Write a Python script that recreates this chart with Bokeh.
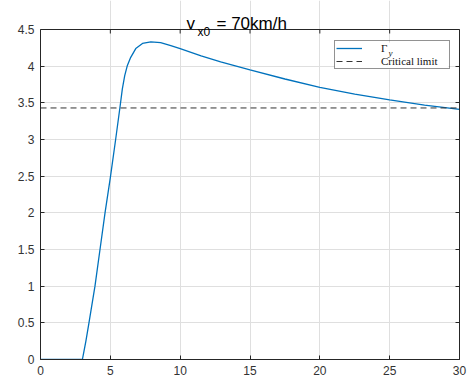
from bokeh.plotting import figure
from bokeh.models import (Range1d, LinearAxis, Legend, LegendItem, Label,
                          FixedTicker, BoxAnnotation)
from bokeh.embed import file_html
from bokeh.resources import INLINE

# ---- data ----
time_s = [0, 3.0, 3.1, 3.25, 3.47, 3.9, 4.26, 4.62, 5.0, 5.38, 5.69, 5.86, 6.03,
          6.22, 6.46, 6.82, 7.3, 7.9, 8.6, 9.33, 10, 11.5, 12.9, 15, 17.5, 20,
          22.5, 25, 27.5, 30]
gamma_y = [0, 0, 0.1, 0.25, 0.5, 1.0, 1.5, 2.0, 2.48, 3.0, 3.44, 3.69, 3.87,
           4.01, 4.12, 4.24, 4.31, 4.33, 4.32, 4.28, 4.24, 4.14, 4.06, 3.95,
           3.825, 3.71, 3.62, 3.54, 3.47, 3.41]
critical_limit = 3.43
x_ticks = [0, 5, 10, 15, 20, 25, 30]
y_ticks = [0, 0.5, 1, 1.5, 2, 2.5, 3, 3.5, 4, 4.5]
series_labels = ["Γ", "Critical limit"]
title_parts = ["v", "x0", "= 70km/h"]

# ---- layout constants (pixels) ----
W, H = 469, 383
LEFT, RIGHT = 40, 10
FRAME_H = 359          # frame spans from top of canvas to the x axis
FRAME_W = W - LEFT - RIGHT
BOX_TOP = 29           # pixel row of the visible box top
TICK = 4
AX = "#262626"

y_max = y_ticks[-1] * FRAME_H / (FRAME_H - BOX_TOP)
tick_len = TICK * y_max / FRAME_H


def px_x(px):
    return x_ticks[0] + (px - LEFT) * (x_ticks[-1] - x_ticks[0]) / FRAME_W


def px_y(py):
    return (FRAME_H - py) * y_max / FRAME_H


p = figure(width=W, height=H, output_backend="svg", toolbar_location=None,
           x_range=Range1d(x_ticks[0], x_ticks[-1]),
           y_range=Range1d(y_ticks[0], y_max),
           min_border_left=LEFT, min_border_right=RIGHT, min_border_top=0,
           min_border_bottom=H - FRAME_H)
p.background_fill_color = "white"
p.border_fill_color = "white"
p.outline_line_color = None

p.add_layout(LinearAxis(), "right")

for ax in p.xaxis:
    ax.ticker = FixedTicker(ticks=x_ticks)
for ax in p.yaxis:
    ax.ticker = FixedTicker(ticks=y_ticks)
    ax.bounds = (y_ticks[0], y_ticks[-1])
for ax in p.axis:
    ax.axis_line_color = AX
    ax.axis_line_width = 1
    ax.major_tick_line_color = AX
    ax.major_tick_in = TICK
    ax.major_tick_out = 0
    ax.minor_tick_line_color = None
    ax.major_label_text_font = "Liberation Sans"
    ax.major_label_text_font_size = "12px"
    ax.major_label_text_color = "#333333"
    ax.major_label_standoff = 6
rax = p.right[0]
rax.major_label_text_color = None
rax.major_label_text_font_size = "1px"
rax.major_label_standoff = 0

p.xgrid.ticker = FixedTicker(ticks=x_ticks)
p.ygrid.ticker = FixedTicker(ticks=y_ticks)
p.xgrid.bounds = (y_ticks[0], y_ticks[-1])
p.grid.grid_line_color = "#dfdfdf"
p.grid.grid_line_width = 1

# top edge of the box and its inward ticks
p.line([x_ticks[0], x_ticks[-1]], [y_ticks[-1], y_ticks[-1]],
       line_color=AX, line_width=1)
p.segment(x0=x_ticks, x1=x_ticks, y0=[y_ticks[-1]] * len(x_ticks),
          y1=[y_ticks[-1] - tick_len] * len(x_ticks), line_color=AX, line_width=1)

r1 = p.line(time_s, gamma_y, line_color="#0072BD", line_width=1.3)
r2 = p.line([time_s[0], time_s[-1]], [critical_limit, critical_limit],
            line_color="#333333", line_width=1, line_dash="6 4")

# legend geometry
LG_L, LG_B, LG_W, LG_H = 334, 69, 114, 27
p.add_layout(BoxAnnotation(left=px_x(LG_L), right=px_x(LG_L + LG_W),
                           bottom=px_y(LG_B), top=px_y(LG_B - LG_H),
                           fill_color="white", fill_alpha=1, line_color=None,
                           level="glyph"))

legend = Legend(items=[LegendItem(label=series_labels[0], renderers=[r1]),
                       LegendItem(label=series_labels[1], renderers=[r2])],
                location=(LG_L - LEFT, FRAME_H - LG_B))
legend.margin = 0
legend.padding = 1
legend.spacing = 1
legend.label_height = 10
legend.glyph_height = 10
legend.glyph_width = 26
legend.label_standoff = 19
legend.label_width = 67
legend.label_text_font = "Liberation Serif"
legend.label_text_font_size = "11px"
legend.label_text_color = "#111111"
legend.border_line_color = AX
legend.border_line_width = 1
legend.background_fill_alpha = 0
p.add_layout(legend)

# subscript y of Gamma
p.add_layout(Label(x=388 - LEFT, y=FRAME_H - 52, x_units="screen",
                   y_units="screen", text="y", text_font="Liberation Serif",
                   text_font_style="italic", text_font_size="9px",
                   text_color="#111111", text_baseline="alphabetic"))

# title: v_{x0} = 70km/h
p.add_layout(Label(x=186 - LEFT, y=FRAME_H - 23.3, x_units="screen",
                   y_units="screen", text=title_parts[0],
                   text_font="Liberation Sans", text_font_size="17px",
                   text_color="black", text_baseline="alphabetic"))
p.add_layout(Label(x=197 - LEFT, y=FRAME_H - 31.7, x_units="screen",
                   y_units="screen", text=title_parts[1],
                   text_font="Liberation Sans", text_font_size="12px",
                   text_color="black", text_baseline="alphabetic"))
p.add_layout(Label(x=216 - LEFT, y=FRAME_H - 23.3, x_units="screen",
                   y_units="screen", text=title_parts[2],
                   text_font="Liberation Sans", text_font_size="17px",
                   text_color="black", text_baseline="alphabetic"))

open("out.html", "w").write(file_html(p, INLINE))
